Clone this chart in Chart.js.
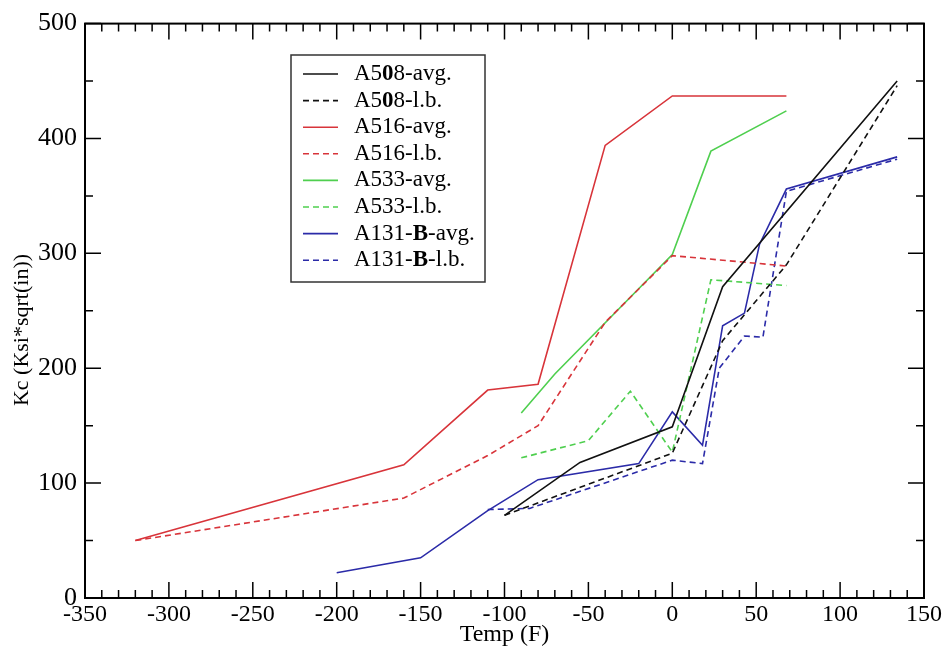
<!DOCTYPE html>
<html>
<head>
<meta charset="utf-8">
<script src="https://cdn.jsdelivr.net/npm/chart.js@4"></script>
<style>
  html, body { margin: 0; padding: 0; background: #fff; }
  #wrap { width: 944px; height: 653px; }
</style>
</head>
<body>
<div id="wrap"><canvas id="kcChart" width="944" height="653"></canvas></div>
<script>
// Temperature (F) and Kc values
const a508AvgT = [-100, -55, 0, 30, 134];
const a508AvgK = [72, 118, 149, 271, 450];
const a508LbT = [-100, 0, 30, 68, 134];
const a508LbK = [72, 126, 224, 290, 446];

const a516AvgT = [-320, -160, -110, -80, -40, 0, 68];
const a516AvgK = [50, 116, 181, 186, 394, 437, 437];
const a516LbT = [-320, -160, -110, -80, -40, 0, 68];
const a516LbK = [50, 87, 124, 150, 240, 298, 289];

const a533AvgT = [-90, -70, 0, 23, 68];
const a533AvgK = [161, 195, 299, 389, 424];
const a533LbT = [-90, -50, -25, 0, 23, 68];
const a533LbK = [122, 137, 180, 127, 277, 272];

const a131AvgT = [-200, -150, -110, -80, -20, 0, 18, 30, 43, 52, 68, 134];
const a131AvgK = [22, 35, 76, 103, 117, 162, 133, 237, 248, 308, 356, 384];
const a131LbT = [-110, -85, 0, 18, 28, 43, 54, 68, 134];
const a131LbK = [77, 78, 120, 117, 200, 228, 227, 354, 382];

const seriesLabels = [
  "A508-avg.", "A508-l.b.", "A516-avg.", "A516-l.b.",
  "A533-avg.", "A533-l.b.", "A131-B-avg.", "A131-B-l.b.",
];

const xTicks = [-350, -300, -250, -200, -150, -100, -50, 0, 50, 100, 150];
const yTicks = [0, 100, 200, 300, 400, 500];

const SERIF = "'Liberation Serif', 'Times New Roman', serif";
const BLACK = "#111111";
const RED = "#d8343a";
const GREEN = "#4fcf4f";
const BLUE = "#2b2ba8";
const DASH = [6, 4];

function pts(xs, ys) {
  return xs.map((x, i) => ({ x: x, y: ys[i] }));
}

function series(label, xs, ys, color, dashed) {
  return {
    label: label,
    data: pts(xs, ys),
    showLine: true,
    borderColor: color,
    backgroundColor: color,
    borderWidth: 1.6,
    borderDash: dashed ? DASH : [],
    pointRadius: 0,
    tension: 0,
  };
}

const datasets = [
  series(seriesLabels[0], a508AvgT, a508AvgK, BLACK, false),
  series(seriesLabels[1], a508LbT, a508LbK, BLACK, true),
  series(seriesLabels[2], a516AvgT, a516AvgK, RED, false),
  series(seriesLabels[3], a516LbT, a516LbK, RED, true),
  series(seriesLabels[4], a533AvgT, a533AvgK, GREEN, false),
  series(seriesLabels[5], a533LbT, a533LbK, GREEN, true),
  series(seriesLabels[6], a131AvgT, a131AvgK, BLUE, false),
  series(seriesLabels[7], a131LbT, a131LbK, BLUE, true),
];

// frame with inward ticks on all four sides (xmgrace style)
const framePlugin = {
  id: "frame",
  afterDraw(chart) {
    const ctx = chart.ctx;
    const a = chart.chartArea;
    const xs = chart.scales.x;
    const ys = chart.scales.y;
    ctx.save();
    ctx.strokeStyle = "#000";
    ctx.lineWidth = 2;
    ctx.strokeRect(a.left, a.top, a.right - a.left, a.bottom - a.top);
    ctx.lineWidth = 1.5;
    ctx.beginPath();
    for (let v = -350; v <= 150; v += 10) {
      const px = xs.getPixelForValue(v);
      const len = v % 50 === 0 ? 16 : 8;
      ctx.moveTo(px, a.bottom);
      ctx.lineTo(px, a.bottom - len);
      ctx.moveTo(px, a.top);
      ctx.lineTo(px, a.top + len);
    }
    for (let v = 0; v <= 500; v += 50) {
      const py = ys.getPixelForValue(v);
      const len = v % 100 === 0 ? 16 : 8;
      ctx.moveTo(a.left, py);
      ctx.lineTo(a.left + len, py);
      ctx.moveTo(a.right, py);
      ctx.lineTo(a.right - len, py);
    }
    ctx.stroke();

    // y axis title
    ctx.translate(22, 330);
    ctx.rotate(-Math.PI / 2);
    ctx.fillStyle = "#000";
    ctx.font = "22px " + SERIF;
    ctx.textAlign = "center";
    ctx.textBaseline = "middle";
    ctx.fillText("Kc (Ksi*sqrt(in))", 0, 0);
    ctx.restore();
  },
};

// boxed legend inside the plot, with "0" and "B" in bold as in the reference
const legendPlugin = {
  id: "boxLegend",
  afterDraw(chart) {
    const ctx = chart.ctx;
    const box = { left: 291, top: 55, right: 485, bottom: 282 };
    ctx.save();
    ctx.fillStyle = "#fff";
    ctx.fillRect(box.left, box.top, box.right - box.left, box.bottom - box.top);
    ctx.strokeStyle = "#333";
    ctx.lineWidth = 1.5;
    ctx.strokeRect(box.left, box.top, box.right - box.left, box.bottom - box.top);
    ctx.textBaseline = "middle";
    chart.data.datasets.forEach((ds, i) => {
      const y = 74 + i * 26.6;
      ctx.strokeStyle = ds.borderColor;
      ctx.lineWidth = 1.6;
      ctx.setLineDash(ds.borderDash);
      ctx.beginPath();
      ctx.moveTo(303, y);
      ctx.lineTo(338, y);
      ctx.stroke();
      ctx.setLineDash([]);
      ctx.fillStyle = "#000";
      let x = 354;
      const parts = ds.label.split(/(0|B)/).filter((p) => p !== "");
      parts.forEach((p) => {
        const bold = p === "0" || p === "B";
        ctx.font = (bold ? "bold " : "") + "23px " + SERIF;
        ctx.fillText(p, x, y);
        x += ctx.measureText(p).width;
      });
    });
    ctx.restore();
  },
};

const ctx = document.getElementById("kcChart").getContext("2d");
new Chart(ctx, {
  type: "scatter",
  data: { datasets: datasets },
  options: {
    responsive: false,
    animation: false,
    layout: { padding: { left: 0, right: 15, top: 15, bottom: 0 } },
    plugins: {
      legend: { display: false },
      tooltip: { enabled: false },
    },
    scales: {
      x: {
        type: "linear",
        min: -350,
        max: 150,
        afterBuildTicks: (s) => { s.ticks = xTicks.map((v) => ({ value: v })); },
        afterFit: (s) => { s.height = 55; },
        grid: { display: false, drawTicks: false },
        border: { display: false },
        ticks: {
          color: "#000",
          font: { family: SERIF, size: 24 },
          padding: 2,
          maxRotation: 0,
          callback: (v) => String(v),
        },
        title: {
          display: true,
          text: "Temp (F)",
          color: "#000",
          font: { family: SERIF, size: 24 },
          padding: { top: 0, bottom: 4 },
        },
      },
      y: {
        type: "linear",
        min: 0,
        max: 500,
        afterBuildTicks: (s) => { s.ticks = yTicks.map((v) => ({ value: v })); },
        afterFit: (s) => { s.width = 85; },
        grid: { display: false, drawTicks: false },
        border: { display: false },
        ticks: {
          color: "#000",
          font: { family: SERIF, size: 26 },
          padding: 8,
          callback: (v) => String(v),
        },
      },
    },
  },
  plugins: [framePlugin, legendPlugin],
});
</script>
</body>
</html>
